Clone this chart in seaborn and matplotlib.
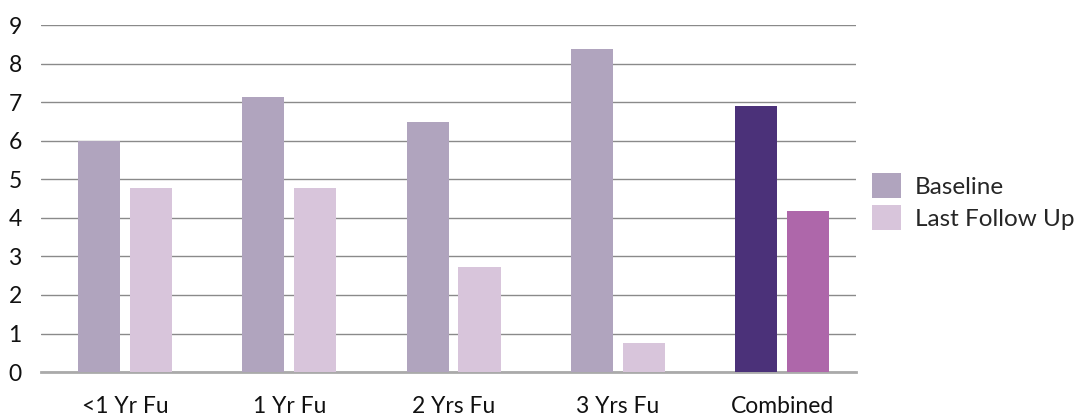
import matplotlib
matplotlib.use("Agg")
import matplotlib.pyplot as plt
import seaborn as sns
import pandas as pd

categories = ["<1 Yr Fu", "1 Yr Fu", "2 Yrs Fu", "3 Yrs Fu", "Combined"]
baseline = [6.0, 7.13, 6.48, 8.39, 6.89]
last_follow_up = [4.77, 4.77, 2.72, 0.75, 4.17]
series_names = ["Baseline", "Last Follow Up"]
yticks = list(range(0, 10))

colors = ["#AFA0C2", "#DBC1DF"]
combined_colors = ["#4B3179", "#AE67AA"]

df = pd.DataFrame({
    "category": categories * 2,
    "value": baseline + last_follow_up,
    "series": [series_names[0]] * len(categories) + [series_names[1]] * len(categories),
})

sns.set_style("white")
plt.rcParams["font.family"] = ["Lato", "DejaVu Sans"]

fig = plt.figure(figsize=(10.81, 4.19), dpi=100)
ax = fig.add_axes([0.038, 0.112, 0.754, 0.828])

sns.barplot(data=df, x="category", y="value", hue="series", order=categories,
            hue_order=series_names, palette=colors, width=0.632, gap=0.19,
            errorbar=None, ax=ax, legend=True, zorder=3, linewidth=0,
            edgecolor="none")

# Recolor the combined group
ci = categories.index("Combined")
for cont, col in zip(ax.containers, combined_colors):
    cont.patches[ci].set_facecolor(col)

ax.set_xlim(-0.51, 4.45)
ax.set_ylim(0, 9)
ax.set_yticks(yticks)
ax.set_yticklabels([str(t) for t in yticks])
ax.set_xlabel("")
ax.set_ylabel("")
for s in ["top", "right", "left"]:
    ax.spines[s].set_visible(False)
ax.spines["bottom"].set_color("#AAAAAA")
ax.spines["bottom"].set_linewidth(2)
ax.yaxis.grid(True, color="#8A8A8A", linewidth=1)
ax.set_axisbelow(True)
ax.tick_params(axis="y", length=0, pad=14, labelsize=16.5, labelcolor="#111111")
ax.tick_params(axis="x", length=0, pad=17, labelsize=16.5, labelcolor="#111111")

ax.legend(loc="center left", bbox_to_anchor=(872 / 1081, 1 - 201.5 / 419),
          bbox_transform=fig.transFigure, frameon=False, fontsize=17.5,
          handlelength=1.19, handleheight=1.19, labelspacing=0.29,
          handletextpad=0.58, borderpad=0, borderaxespad=0)

fig.savefig("out.png", dpi=100)
